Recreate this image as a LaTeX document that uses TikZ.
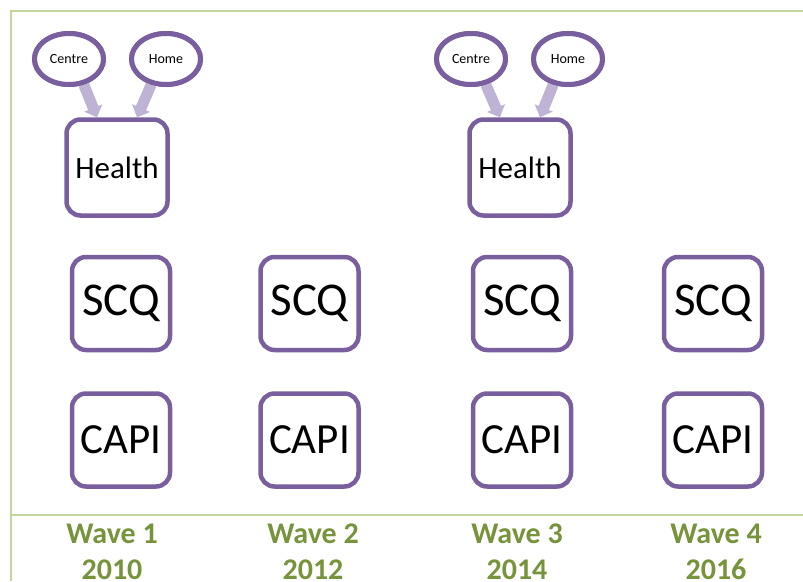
\documentclass[tikz,border=0pt]{standalone}
\usepackage{fontspec}
\setmainfont{Carlito}
\usetikzlibrary{arrows.meta,shapes.geometric}
\definecolor{boxpurple}{HTML}{7A5F9E}
\definecolor{arrowlilac}{HTML}{BFB3D5}
\definecolor{framegreen}{HTML}{C3D69B}
\definecolor{wavegreen}{HTML}{77933C}
\tikzset{
  modebox/.style={draw=boxpurple, line width=4.5pt, rounded corners=14pt, fill=white,
    minimum width=98pt, minimum height=93pt, inner sep=0pt},
  healthbox/.style={modebox, minimum width=101pt, minimum height=96pt,
    font=\fontsize{31}{36}\selectfont},
  scqbox/.style={modebox, font=\fontsize{47}{50}\selectfont},
  capibox/.style={modebox, font=\fontsize{43}{50}\selectfont},
  siteoval/.style={ellipse, draw=boxpurple, line width=5pt, fill=white,
    minimum width=69pt, minimum height=51pt, inner sep=0pt,
    font=\fontsize{14}{16}\selectfont},
  sitearrow/.style={draw=arrowlilac, line width=11pt,
    -{Triangle[length=10pt,width=19pt]}},
  wavelabel/.style={text=wavegreen, align=center, font=\bfseries\fontsize{30}{36}\selectfont},
  frameline/.style={draw=framegreen, line width=1.2pt}
}
\begin{document}
\begin{tikzpicture}[x=1pt, y=-1pt]
  \useasboundingbox (0,0) rectangle (803,581);

  %%%%% FRAME %%%%%
  \draw[frameline] (803,11) -- (11,11) -- (11,581);
  \draw[frameline] (11,515) -- (803,515);

  %%%%% WAVE 1 %%%%%
  \node[healthbox] (health1) at (117,167.5) {Health};
  \node[siteoval] (centre1) at (69,59) {Centre};
  \node[siteoval] (home1) at (166,59) {Home};
  \node[scqbox] (scq1) at (121,303.5) {SCQ};
  \node[capibox] (capi1) at (121,440) {CAPI};

  %%%%% WAVE 2 %%%%%
  \node[scqbox] (scq2) at (309.5,303.5) {SCQ};
  \node[capibox] (capi2) at (309.5,440) {CAPI};

  %%%%% WAVE 3 %%%%%
  \node[healthbox] (health3) at (520,167.5) {Health};
  \node[siteoval] (centre3) at (471,59) {Centre};
  \node[siteoval] (home3) at (568,59) {Home};
  \node[scqbox] (scq3) at (522,303.5) {SCQ};
  \node[capibox] (capi3) at (522,440) {CAPI};

  %%%%% WAVE 4 %%%%%
  \node[scqbox] (scq4) at (713,303.5) {SCQ};
  \node[capibox] (capi4) at (713,440) {CAPI};

  %%%%% ARROWS %%%%%
  \draw[sitearrow] (centre1.300) -- ([xshift=-20pt]health1.north);
  \draw[sitearrow] (home1.240) -- ([xshift=20pt]health1.north);
  \draw[sitearrow] (centre3.300) -- ([xshift=-20pt]health3.north);
  \draw[sitearrow] (home3.240) -- ([xshift=20pt]health3.north);
  % ovals again so they sit over the arrow tails
  \node[siteoval] at (centre1) {Centre};
  \node[siteoval] at (home1) {Home};
  \node[siteoval] at (centre3) {Centre};
  \node[siteoval] at (home3) {Home};

  %%%%% LABELS %%%%%
  \node[wavelabel] (wave1) at (112,552) {Wave 1\\2010};
  \node[wavelabel] (wave2) at (313,552) {Wave 2\\2012};
  \node[wavelabel] (wave3) at (517,552) {Wave 3\\2014};
  \node[wavelabel] (wave4) at (716,552) {Wave 4\\2016};
\end{tikzpicture}
\end{document}
